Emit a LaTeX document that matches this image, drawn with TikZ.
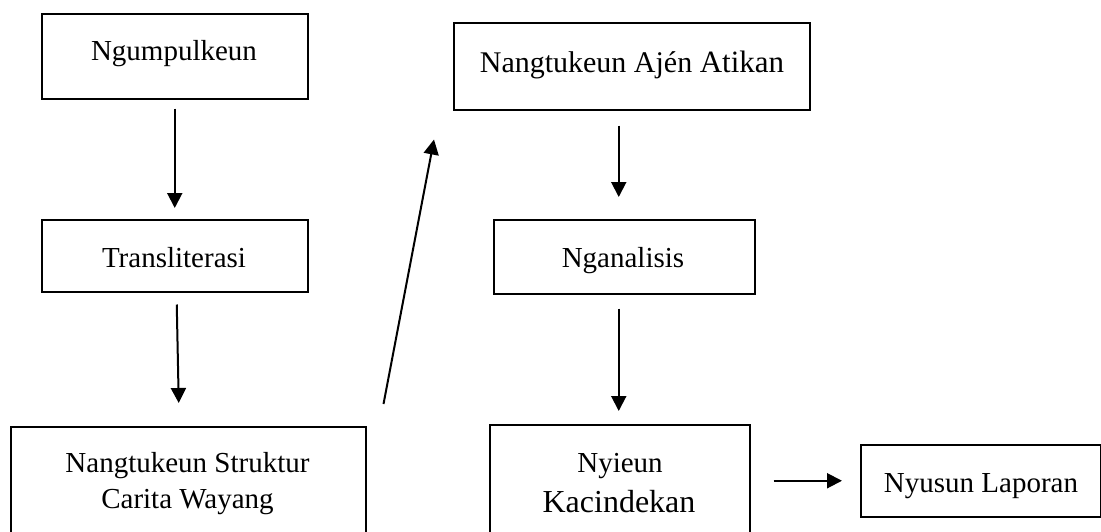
\documentclass[tikz,border=0pt]{standalone}
\usepackage{fontspec}
\setmainfont{Liberation Serif}
\usetikzlibrary{arrows.meta}
\begin{document}
\begin{tikzpicture}[x=1pt,y=-1pt,
  box/.style={draw=black, line width=1.5pt, anchor=north west, inner sep=0pt},
  txt/.style={inner sep=0pt, anchor=base, font=\fontsize{29}{35}\selectfont},
  arr/.style={line width=2pt, -{Triangle[width=15pt,length=15pt]}}]
\useasboundingbox (0,0) rectangle (1101,531);
\clip (0,0) rectangle (1101,531);
\fill[white] (0,0) rectangle (1101,531);
% boxes
\node[box, minimum width=266pt, minimum height=85pt] (n1) at (41,13) {};
\node[box, minimum width=266pt, minimum height=72pt] (n2) at (41,219) {};
\node[box, minimum width=355pt, minimum height=130pt] (n3) at (10,426) {};
\node[box, minimum width=356pt, minimum height=87pt] (n4) at (453,22) {};
\node[box, minimum width=261pt, minimum height=74pt] (n5) at (493,219) {};
\node[box, minimum width=260pt, minimum height=130pt] (n6) at (489,424) {};
\node[box, minimum width=240pt, minimum height=72pt] (n7) at (860,444) {};
% texts
\node[txt] (t1) at (174,60) {Ngumpulkeun};
\node[txt] (t2) at (174,267) {Transliterasi};
\node[txt] (t3a) at (187.5,472) {Nangtukeun Struktur};
\node[txt] (t3b) at (187.5,508) {Carita Wayang};
\node[txt, font=\fontsize{30}{36}\selectfont] (t4) at (632,72) {Nangtukeun Ajén {\fontsize{31}{36}\selectfont Atikan}};
\node[txt] (t5) at (623,267) {Nganalisis};
\node[txt] (t6a) at (620,472) {Nyieun};
\node[txt, font=\fontsize{32}{38}\selectfont] (t6b) at (619,512) {Kacindekan};
\node[txt] (t7) at (981,492) {Nyusun Laporan};
% connectors
\draw[arr] ([yshift=-9pt]n1.south) -- ([yshift=11pt]n2.north);
\draw[arr] ([xshift=2pt,yshift=-12pt]n2.south) -- ([xshift=-9.5pt,yshift=23pt]n3.north);
\draw[arr] ([xshift=17pt,yshift=22pt]n3.north east) -- ([xshift=-19pt,yshift=-29pt]n4.south west);
\draw[arr] ([xshift=-13pt,yshift=-15pt]n4.south) -- ([xshift=-5.5pt,yshift=22pt]n5.north);
\draw[arr] ([xshift=-5.5pt,yshift=-14pt]n5.south) -- ([xshift=-1pt,yshift=13pt]n6.north);
\draw[arr] ([xshift=23pt,yshift=9pt]n6.east) -- ([xshift=-18pt]n7.west);
\end{tikzpicture}
\end{document}
